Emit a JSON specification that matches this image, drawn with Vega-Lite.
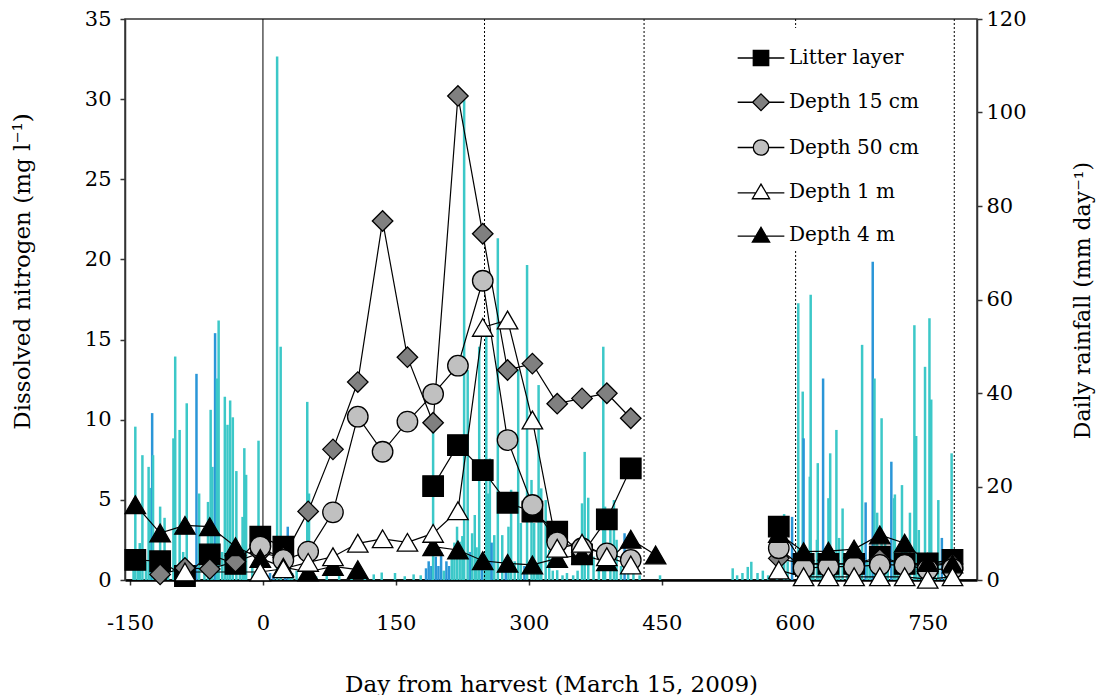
{
  "$schema": "https://vega.github.io/schema/vega-lite/v6.json",
  "width": 852,
  "height": 561,
  "autosize": {"type": "none"},
  "padding": {"left": 125, "top": 19, "right": 127, "bottom": 115},
  "background": "white",
  "config": {
    "view": {"stroke": "#333", "strokeWidth": 1.5},
    "axis": {
      "labelFont": "DejaVu Serif", "titleFont": "DejaVu Serif",
      "labelFontSize": 21, "titleFontSize": 23, "titleFontWeight": "normal",
      "labelColor": "black", "titleColor": "black", "grid": false,
      "domainColor": "#333", "tickColor": "#333", "tickSize": 5,
      "domainWidth": 1.5, "tickWidth": 1.5
    },
    "axisX": {"domainWidth": 2.5, "domainColor": "black"},
    "legend": {
      "orient": "none", "legendX": 606, "legendY": 9, "fillColor": "white", "padding": 6,
      "labelFont": "DejaVu Serif", "labelFontSize": 20, "labelColor": "black", "labelOffset": 4,
      "symbolSize": 2180, "rowPadding": 9.25, "symbolStrokeWidth": 1.3, "symbolStrokeColor": "black"
    }
  },
  "datasets": {
    "rain": [
      {"day":-146,"mm":3,"g":"a"},{"day":-144,"mm":32.8,"g":"a"},{"day":-141,"mm":5,"g":"a"},{"day":-139,"mm":7.9,"g":"a"},{"day":-136,"mm":26.7,"g":"a"},{"day":-132,"mm":4,"g":"a"},{"day":-129,"mm":24.2,"g":"a"},{"day":-127,"mm":19.7,"g":"a"},{"day":-125,"mm":35.7,"g":"b"},{"day":-124,"mm":26.7,"g":"a"},{"day":-120,"mm":5,"g":"a"},{"day":-116,"mm":15.7,"g":"a"},{"day":-111,"mm":13.3,"g":"a"},{"day":-107,"mm":2,"g":"a"},{"day":-101,"mm":30.3,"g":"a"},{"day":-99,"mm":47.8,"g":"a"},{"day":-94,"mm":32.1,"g":"a"},{"day":-90,"mm":6,"g":"a"},{"day":-86,"mm":37.8,"g":"a"},{"day":-80,"mm":3,"g":"a"},{"day":-75,"mm":44.1,"g":"b"},{"day":-72,"mm":18.5,"g":"a"},{"day":-66,"mm":4,"g":"a"},{"day":-62,"mm":16.7,"g":"a"},{"day":-59,"mm":36.4,"g":"a"},{"day":-57,"mm":24.2,"g":"a"},{"day":-54,"mm":52.8,"g":"b"},{"day":-52,"mm":43.1,"g":"a"},{"day":-50,"mm":55.5,"g":"a"},{"day":-46,"mm":6,"g":"a"},{"day":-43,"mm":39.2,"g":"a"},{"day":-40,"mm":33.2,"g":"a"},{"day":-37,"mm":38.4,"g":"a"},{"day":-34,"mm":34.8,"g":"a"},{"day":-30,"mm":23.3,"g":"a"},{"day":-26,"mm":3,"g":"a"},{"day":-23,"mm":13.5,"g":"a"},{"day":-21,"mm":28.2,"g":"a"},{"day":-19,"mm":22.5,"g":"a"},{"day":-12,"mm":3,"g":"a"},{"day":-5,"mm":29.8,"g":"a"},{"day":-2,"mm":2,"g":"a"},
      {"day":5,"mm":1,"g":"b"},{"day":8,"mm":1.5,"g":"b"},{"day":12,"mm":1,"g":"b"},{"day":16,"mm":112,"g":"a"},{"day":20,"mm":49.9,"g":"a"},{"day":25,"mm":1,"g":"b"},{"day":28,"mm":11.4,"g":"b"},{"day":30,"mm":9,"g":"a"},{"day":33,"mm":1.5,"g":"a"},{"day":38,"mm":2,"g":"a"},{"day":45,"mm":1,"g":"a"},{"day":50,"mm":38.1,"g":"a"},{"day":52,"mm":18.5,"g":"a"},
      {"day":60,"mm":0.8,"g":"a"},{"day":72,"mm":1,"g":"a"},{"day":86,"mm":1.5,"g":"a"},{"day":100,"mm":1,"g":"a"},{"day":115,"mm":0.8,"g":"a"},{"day":125,"mm":1.2,"g":"a"},{"day":134,"mm":1.6,"g":"a"},{"day":149,"mm":1.5,"g":"a"},{"day":160,"mm":0.8,"g":"a"},{"day":170,"mm":1.2,"g":"a"},{"day":178,"mm":1,"g":"a"},{"day":184,"mm":2.5,"g":"b"},{"day":187,"mm":4,"g":"b"},{"day":190,"mm":3,"g":"b"},
      {"day":192,"mm":33.5,"g":"a"},{"day":195,"mm":5,"g":"b"},{"day":198,"mm":3,"g":"b"},{"day":201,"mm":6,"g":"b"},{"day":204,"mm":2,"g":"a"},{"day":207,"mm":4,"g":"b"},{"day":210,"mm":3,"g":"b"},{"day":213,"mm":5,"g":"a"},{"day":216,"mm":8,"g":"a"},{"day":219,"mm":11.4,"g":"a"},{"day":222,"mm":8.2,"g":"a"},{"day":225,"mm":9.4,"g":"a"},{"day":227,"mm":102.7,"g":"a"},{"day":231,"mm":44.9,"g":"a"},{"day":234,"mm":6,"g":"b"},{"day":236,"mm":10,"g":"a"},{"day":239,"mm":13.9,"g":"a"},{"day":241,"mm":7,"g":"a"},{"day":244,"mm":49.9,"g":"a"},{"day":247,"mm":4,"g":"b"},{"day":250,"mm":5,"g":"a"},{"day":252,"mm":52,"g":"a"},{"day":254,"mm":18.5,"g":"a"},{"day":256,"mm":26,"g":"a"},{"day":258,"mm":8,"g":"b"},{"day":261,"mm":9.6,"g":"a"},{"day":265,"mm":73.1,"g":"a"},{"day":270,"mm":9.6,"g":"a"},{"day":274,"mm":3,"g":"b"},{"day":277,"mm":11.4,"g":"a"},{"day":280,"mm":19.3,"g":"a"},{"day":284,"mm":4,"g":"a"},{"day":288,"mm":45,"g":"a"},{"day":291,"mm":12.2,"g":"a"},{"day":295,"mm":3,"g":"b"},{"day":298,"mm":67.4,"g":"a"},{"day":303,"mm":21.4,"g":"a"},{"day":306,"mm":12.2,"g":"a"},{"day":309,"mm":3,"g":"a"},{"day":311,"mm":41.7,"g":"a"},{"day":314,"mm":19.6,"g":"a"},{"day":319,"mm":17.1,"g":"a"},{"day":323,"mm":6.4,"g":"a"},{"day":327,"mm":2,"g":"a"},{"day":332,"mm":2.1,"g":"a"},{"day":338,"mm":1,"g":"a"},{"day":343,"mm":1.5,"g":"a"},{"day":350,"mm":1,"g":"a"},{"day":355,"mm":2,"g":"a"},{"day":360,"mm":16.4,"g":"a"},{"day":363,"mm":27.4,"g":"a"},{"day":367,"mm":17.6,"g":"a"},{"day":373,"mm":5,"g":"a"},{"day":379,"mm":2,"g":"a"},{"day":384,"mm":49.9,"g":"a"},{"day":386,"mm":15.7,"g":"a"},{"day":392,"mm":12.2,"g":"a"},{"day":396,"mm":17.1,"g":"a"},{"day":399,"mm":8.6,"g":"a"},{"day":404,"mm":3,"g":"a"},{"day":408,"mm":10,"g":"b"},{"day":412,"mm":2,"g":"a"},{"day":418,"mm":2,"g":"a"},{"day":425,"mm":1,"g":"a"},
      {"day":448,"mm":1,"g":"a"},{"day":530,"mm":2.5,"g":"a"},{"day":535,"mm":1,"g":"a"},{"day":541,"mm":1.5,"g":"a"},{"day":547,"mm":2.8,"g":"a"},{"day":551,"mm":3.9,"g":"a"},{"day":558,"mm":1.5,"g":"a"},{"day":564,"mm":2,"g":"a"},{"day":570,"mm":1,"g":"a"},{"day":580,"mm":3,"g":"a"},{"day":588,"mm":14.1,"g":"a"},{"day":592,"mm":4,"g":"a"},{"day":597,"mm":13.5,"g":"b"},
      {"day":604,"mm":59.2,"g":"a"},{"day":606,"mm":3,"g":"a"},{"day":609,"mm":40.3,"g":"a"},{"day":610,"mm":30.3,"g":"b"},{"day":614,"mm":6,"g":"a"},{"day":617,"mm":22.1,"g":"a"},{"day":618,"mm":61,"g":"a"},{"day":621,"mm":4,"g":"a"},{"day":625,"mm":8.6,"g":"a"},{"day":626,"mm":25,"g":"a"},{"day":629,"mm":5,"g":"a"},{"day":632,"mm":43.1,"g":"b"},{"day":635,"mm":3,"g":"a"},{"day":638,"mm":17.5,"g":"a"},{"day":640,"mm":27.1,"g":"a"},{"day":644,"mm":6,"g":"a"},{"day":647,"mm":32.1,"g":"a"},{"day":650,"mm":9,"g":"a"},{"day":654,"mm":15.3,"g":"a"},{"day":659,"mm":4,"g":"a"},{"day":663,"mm":6,"g":"a"},{"day":668,"mm":3,"g":"a"},{"day":672,"mm":5,"g":"a"},{"day":676,"mm":50.3,"g":"a"},{"day":680,"mm":16.6,"g":"b"},{"day":682,"mm":4,"g":"a"},{"day":685,"mm":6,"g":"a"},{"day":688,"mm":68.1,"g":"b"},{"day":690,"mm":43.1,"g":"a"},{"day":693,"mm":14.4,"g":"a"},{"day":698,"mm":34.6,"g":"a"},{"day":702,"mm":8.6,"g":"a"},{"day":705,"mm":5,"g":"a"},{"day":709,"mm":25.3,"g":"b"},{"day":712,"mm":17.5,"g":"a"},{"day":713,"mm":18.3,"g":"a"},{"day":716,"mm":4,"g":"a"},{"day":721,"mm":20.3,"g":"a"},{"day":724,"mm":6,"g":"a"},{"day":726,"mm":9,"g":"a"},{"day":730,"mm":14.4,"g":"a"},{"day":735,"mm":54.5,"g":"a"},{"day":737,"mm":30.8,"g":"a"},{"day":740,"mm":10.7,"g":"a"},{"day":744,"mm":4,"g":"a"},{"day":747,"mm":45.6,"g":"a"},{"day":752,"mm":56,"g":"a"},{"day":754,"mm":38.6,"g":"a"},{"day":758,"mm":5,"g":"a"},{"day":762,"mm":17.1,"g":"a"},{"day":766,"mm":9,"g":"b"},{"day":770,"mm":3,"g":"a"},{"day":773,"mm":5,"g":"a"},{"day":777,"mm":27.1,"g":"a"}
    ],
    "nitrogen": [
      {"series":"Litter layer","seg":1,"day":-144,"mg":1.25},{"series":"Litter layer","seg":1,"day":-116,"mg":1.17},{"series":"Litter layer","seg":1,"day":-88,"mg":0.25},{"series":"Litter layer","seg":1,"day":-60,"mg":1.6},{"series":"Litter layer","seg":1,"day":-31,"mg":1.0},{"series":"Litter layer","seg":1,"day":-3,"mg":2.7},{"series":"Litter layer","seg":1,"day":23,"mg":2.08},
      {"series":"Litter layer","seg":2,"day":192,"mg":5.86},{"series":"Litter layer","seg":2,"day":220,"mg":8.42},{"series":"Litter layer","seg":2,"day":248,"mg":6.86},{"series":"Litter layer","seg":2,"day":276,"mg":4.82},{"series":"Litter layer","seg":2,"day":304,"mg":4.26},{"series":"Litter layer","seg":2,"day":332,"mg":3.01},{"series":"Litter layer","seg":2,"day":360,"mg":1.6},{"series":"Litter layer","seg":2,"day":388,"mg":3.78},{"series":"Litter layer","seg":2,"day":415,"mg":6.97},
      {"series":"Litter layer","seg":3,"day":582,"mg":3.33},{"series":"Litter layer","seg":3,"day":610,"mg":1.0},{"series":"Litter layer","seg":3,"day":638,"mg":1.0},{"series":"Litter layer","seg":3,"day":667,"mg":1.0},{"series":"Litter layer","seg":3,"day":696,"mg":1.45},{"series":"Litter layer","seg":3,"day":724,"mg":1.0},{"series":"Litter layer","seg":3,"day":750,"mg":1.04},{"series":"Litter layer","seg":3,"day":778,"mg":1.25},
      {"series":"Depth 15 cm","seg":1,"day":-116,"mg":0.35},{"series":"Depth 15 cm","seg":1,"day":-88,"mg":0.75},{"series":"Depth 15 cm","seg":1,"day":-60,"mg":0.69},{"series":"Depth 15 cm","seg":1,"day":-31,"mg":1.14},{"series":"Depth 15 cm","seg":1,"day":-3,"mg":1.7},{"series":"Depth 15 cm","seg":1,"day":23,"mg":1.4},{"series":"Depth 15 cm","seg":1,"day":51,"mg":4.28},{"series":"Depth 15 cm","seg":1,"day":79,"mg":8.15},{"series":"Depth 15 cm","seg":1,"day":107,"mg":12.35},{"series":"Depth 15 cm","seg":1,"day":135,"mg":22.4},{"series":"Depth 15 cm","seg":1,"day":163,"mg":13.9},{"series":"Depth 15 cm","seg":1,"day":192,"mg":9.81},{"series":"Depth 15 cm","seg":1,"day":220,"mg":30.2},{"series":"Depth 15 cm","seg":1,"day":248,"mg":21.6},{"series":"Depth 15 cm","seg":1,"day":276,"mg":13.1},{"series":"Depth 15 cm","seg":1,"day":304,"mg":13.5},{"series":"Depth 15 cm","seg":1,"day":332,"mg":11.0},{"series":"Depth 15 cm","seg":1,"day":360,"mg":11.33},{"series":"Depth 15 cm","seg":1,"day":388,"mg":11.65},{"series":"Depth 15 cm","seg":1,"day":415,"mg":10.09},
      {"series":"Depth 15 cm","seg":2,"day":582,"mg":1.35},{"series":"Depth 15 cm","seg":2,"day":610,"mg":1.0},{"series":"Depth 15 cm","seg":2,"day":638,"mg":1.0},{"series":"Depth 15 cm","seg":2,"day":667,"mg":1.0},{"series":"Depth 15 cm","seg":2,"day":696,"mg":1.3},{"series":"Depth 15 cm","seg":2,"day":724,"mg":1.0},{"series":"Depth 15 cm","seg":2,"day":750,"mg":0.9},{"series":"Depth 15 cm","seg":2,"day":778,"mg":1.0},
      {"series":"Depth 50 cm","seg":1,"day":-3,"mg":2.08},{"series":"Depth 50 cm","seg":1,"day":23,"mg":1.25},{"series":"Depth 50 cm","seg":1,"day":51,"mg":1.77},{"series":"Depth 50 cm","seg":1,"day":79,"mg":4.22},{"series":"Depth 50 cm","seg":1,"day":107,"mg":10.19},{"series":"Depth 50 cm","seg":1,"day":135,"mg":8.0},{"series":"Depth 50 cm","seg":1,"day":163,"mg":9.88},{"series":"Depth 50 cm","seg":1,"day":192,"mg":11.6},{"series":"Depth 50 cm","seg":1,"day":220,"mg":13.37},{"series":"Depth 50 cm","seg":1,"day":248,"mg":18.67},{"series":"Depth 50 cm","seg":1,"day":276,"mg":8.73},{"series":"Depth 50 cm","seg":1,"day":304,"mg":4.68},{"series":"Depth 50 cm","seg":1,"day":332,"mg":2.35},{"series":"Depth 50 cm","seg":1,"day":360,"mg":1.98},{"series":"Depth 50 cm","seg":1,"day":388,"mg":1.66},{"series":"Depth 50 cm","seg":1,"day":415,"mg":1.25},
      {"series":"Depth 50 cm","seg":2,"day":582,"mg":1.98},{"series":"Depth 50 cm","seg":2,"day":610,"mg":0.73},{"series":"Depth 50 cm","seg":2,"day":638,"mg":0.83},{"series":"Depth 50 cm","seg":2,"day":667,"mg":0.83},{"series":"Depth 50 cm","seg":2,"day":696,"mg":0.94},{"series":"Depth 50 cm","seg":2,"day":724,"mg":0.94},{"series":"Depth 50 cm","seg":2,"day":750,"mg":0.65},{"series":"Depth 50 cm","seg":2,"day":778,"mg":0.7},
      {"series":"Depth 4 m","seg":1,"day":-144,"mg":4.7},{"series":"Depth 4 m","seg":1,"day":-116,"mg":2.93},{"series":"Depth 4 m","seg":1,"day":-88,"mg":3.41},{"series":"Depth 4 m","seg":1,"day":-60,"mg":3.33},{"series":"Depth 4 m","seg":1,"day":-31,"mg":2.08},{"series":"Depth 4 m","seg":1,"day":-3,"mg":1.35},{"series":"Depth 4 m","seg":1,"day":23,"mg":0.8},{"series":"Depth 4 m","seg":1,"day":51,"mg":0.5},{"series":"Depth 4 m","seg":1,"day":79,"mg":0.85},{"series":"Depth 4 m","seg":1,"day":107,"mg":0.65},
      {"series":"Depth 4 m","seg":2,"day":192,"mg":2.08},{"series":"Depth 4 m","seg":2,"day":220,"mg":1.87},{"series":"Depth 4 m","seg":2,"day":248,"mg":1.2},{"series":"Depth 4 m","seg":2,"day":276,"mg":1.04},{"series":"Depth 4 m","seg":2,"day":304,"mg":0.94},{"series":"Depth 4 m","seg":2,"day":332,"mg":1.35},{"series":"Depth 4 m","seg":2,"day":360,"mg":1.56},{"series":"Depth 4 m","seg":2,"day":388,"mg":1.14},{"series":"Depth 4 m","seg":2,"day":415,"mg":2.54},{"series":"Depth 4 m","seg":2,"day":443,"mg":1.56},
      {"series":"Depth 4 m","seg":3,"day":582,"mg":2.9},{"series":"Depth 4 m","seg":3,"day":610,"mg":1.77},{"series":"Depth 4 m","seg":3,"day":638,"mg":1.8},{"series":"Depth 4 m","seg":3,"day":667,"mg":1.93},{"series":"Depth 4 m","seg":3,"day":696,"mg":2.81},{"series":"Depth 4 m","seg":3,"day":724,"mg":2.29},{"series":"Depth 4 m","seg":3,"day":750,"mg":1.1},{"series":"Depth 4 m","seg":3,"day":778,"mg":1.0},
      {"series":"Depth 1 m","seg":1,"day":-88,"mg":0.5},{"series":"Depth 1 m","seg":1,"day":-3,"mg":0.5},{"series":"Depth 1 m","seg":1,"day":23,"mg":0.7},{"series":"Depth 1 m","seg":1,"day":51,"mg":1.1},{"series":"Depth 1 m","seg":1,"day":79,"mg":1.45},{"series":"Depth 1 m","seg":1,"day":107,"mg":2.29},{"series":"Depth 1 m","seg":1,"day":135,"mg":2.57},{"series":"Depth 1 m","seg":1,"day":163,"mg":2.35},{"series":"Depth 1 m","seg":1,"day":192,"mg":2.91},{"series":"Depth 1 m","seg":1,"day":220,"mg":4.32},{"series":"Depth 1 m","seg":1,"day":248,"mg":15.76},{"series":"Depth 1 m","seg":1,"day":276,"mg":16.22},{"series":"Depth 1 m","seg":1,"day":304,"mg":9.98},{"series":"Depth 1 m","seg":1,"day":332,"mg":1.98},{"series":"Depth 1 m","seg":1,"day":360,"mg":2.29},{"series":"Depth 1 m","seg":1,"day":388,"mg":1.45},{"series":"Depth 1 m","seg":1,"day":415,"mg":0.94},
      {"series":"Depth 1 m","seg":2,"day":582,"mg":0.62},{"series":"Depth 1 m","seg":2,"day":610,"mg":0.2},{"series":"Depth 1 m","seg":2,"day":638,"mg":0.2},{"series":"Depth 1 m","seg":2,"day":667,"mg":0.2},{"series":"Depth 1 m","seg":2,"day":696,"mg":0.2},{"series":"Depth 1 m","seg":2,"day":724,"mg":0.2},{"series":"Depth 1 m","seg":2,"day":750,"mg":0.05},{"series":"Depth 1 m","seg":2,"day":778,"mg":0.2}
    ],
    "harvest": [{"day": 0}],
    "periods": [{"day": 250}, {"day": 430}, {"day": 601}, {"day": 780}]
  },
  "encoding": {
    "x": {
      "field": "day", "type": "quantitative",
      "scale": {"domain": [-150, 800], "nice": false, "zero": false},
      "axis": {"values": [-150, 0, 150, 300, 450, 600, 750], "labelExpr": "replace(datum.label, '\u2212', '-')", "labelPadding": 27, "titleY": 104, "titleBaseline": "middle", "title": "Day from harvest (March 15, 2009)"}
    }
  },
  "layer": [
    {
      "data": {"name": "rain"},
      "mark": {"type": "bar", "width": 2.5},
      "encoding": {
        "y": {"field": "mm", "type": "quantitative", "scale": {"domain": [0, 120], "nice": false},
          "axis": {"orient": "right", "values": [0, 20, 40, 60, 80, 100, 120], "labelPadding": 4, "title": "Daily rainfall (mm day⁻¹)", "titleFontSize": 22, "titleAngle": -90, "titleX": 105, "titleY": 281, "titleBaseline": "middle", "titleAlign": "center"}},
        "color": {"field": "g", "type": "nominal", "scale": {"domain": ["a", "b"], "range": ["#3cc8c8", "#2a96d8"]}, "legend": null}
      }
    },
    {
      "layer": [
        {
          "data": {"name": "harvest"},
          "mark": {"type": "rule", "color": "black", "strokeWidth": 1},
          "encoding": {}
        },
        {
          "data": {"name": "periods"},
          "mark": {"type": "rule", "color": "black", "strokeWidth": 1, "strokeDash": [2, 2]},
          "encoding": {}
        },
        {
          "data": {"name": "nitrogen"},
          "mark": {"type": "line", "color": "black", "strokeWidth": 1.2},
          "encoding": {
            "y": {"field": "mg", "type": "quantitative", "scale": {"domain": [0, 35], "nice": false},
              "axis": {"values": [0, 5, 10, 15, 20, 25, 30, 35], "labelPadding": 9, "title": "Dissolved nitrogen (mg l⁻¹)", "titleAngle": -90, "titleX": -103, "titleY": 252, "titleBaseline": "middle", "titleAlign": "center"}},
            "detail": [{"field": "series", "type": "nominal"}, {"field": "seg", "type": "nominal"}],
            "order": {"field": "day", "type": "quantitative"}
          }
        },
        {
          "data": {"name": "nitrogen"},
          "mark": {"type": "point", "filled": true, "stroke": "black", "strokeWidth": 1.3, "opacity": 1},
          "encoding": {
            "y": {"field": "mg", "type": "quantitative"},
            "fill": {"field": "series", "type": "nominal",
              "scale": {"domain": ["Litter layer", "Depth 15 cm", "Depth 50 cm", "Depth 1 m", "Depth 4 m"], "range": ["black", "#808080", "#c0c0c0", "white", "black"]},
              "legend": null},
            "shape": {"field": "series", "type": "nominal",
              "scale": {"domain": ["Litter layer", "Depth 15 cm", "Depth 50 cm", "Depth 1 m", "Depth 4 m"], "range": ["square", "diamond", "circle", "triangle-up", "triangle-up"]},
              "legend": null},
            "size": {"field": "series", "type": "nominal",
              "scale": {"domain": ["Depth 4 m", "Depth 1 m", "Depth 50 cm", "Depth 15 cm", "Litter layer"], "range": [420, 420, 330, 380, 270]}, "legend": null}
          }
        },
        {
          "data": {"name": "nitrogen"},
          "transform": [{"filter": "false"}],
          "mark": {"type": "point", "filled": false, "color": "black", "strokeWidth": 1.3, "opacity": 1},
          "encoding": {
            "y": {"field": "mg", "type": "quantitative"},
            "stroke": {"field": "series", "type": "nominal",
              "scale": {"domain": ["Litter layer", "Depth 15 cm", "Depth 50 cm", "Depth 1 m", "Depth 4 m"], "range": ["black", "black", "black", "black", "black"]},
              "legend": {"title": null}},
            "fill": {"field": "series", "type": "nominal",
              "scale": {"domain": ["Litter layer", "Depth 15 cm", "Depth 50 cm", "Depth 1 m", "Depth 4 m"], "range": ["black", "#808080", "#c0c0c0", "white", "black"]},
              "legend": {"title": null}},
            "shape": {"field": "series", "type": "nominal",
              "scale": {"domain": ["Litter layer", "Depth 15 cm", "Depth 50 cm", "Depth 1 m", "Depth 4 m"], "range": [
                "M-1,0H-0.33M0.33,0H1M-0.33,-0.33H0.33V0.33H-0.33Z",
                "M-1,0H-0.36M0.36,0H1M-0.36,0L0,-0.36L0.36,0L0,0.36Z",
                "M-1,0H-0.33M0.33,0H1M-0.33,0C-0.33,-0.1823,-0.1823,-0.33,0,-0.33C0.1823,-0.33,0.33,-0.1823,0.33,0C0.33,0.1823,0.1823,0.33,0,0.33C-0.1823,0.33,-0.33,0.1823,-0.33,0Z",
                "M-1,0.05H-0.22M0.22,0.05H1M0,-0.33L0.37,0.3H-0.37Z",
                "M-1,0.05H-0.22M0.22,0.05H1M0,-0.33L0.37,0.3H-0.37Z"]},
              "legend": {"title": null}}
          }
        }
      ],
      "resolve": {"scale": {"shape": "independent", "fill": "independent", "size": "independent", "stroke": "independent"}}
    }
  ],
  "resolve": {"scale": {"y": "independent"}, "axis": {"y": "independent"}}
}
